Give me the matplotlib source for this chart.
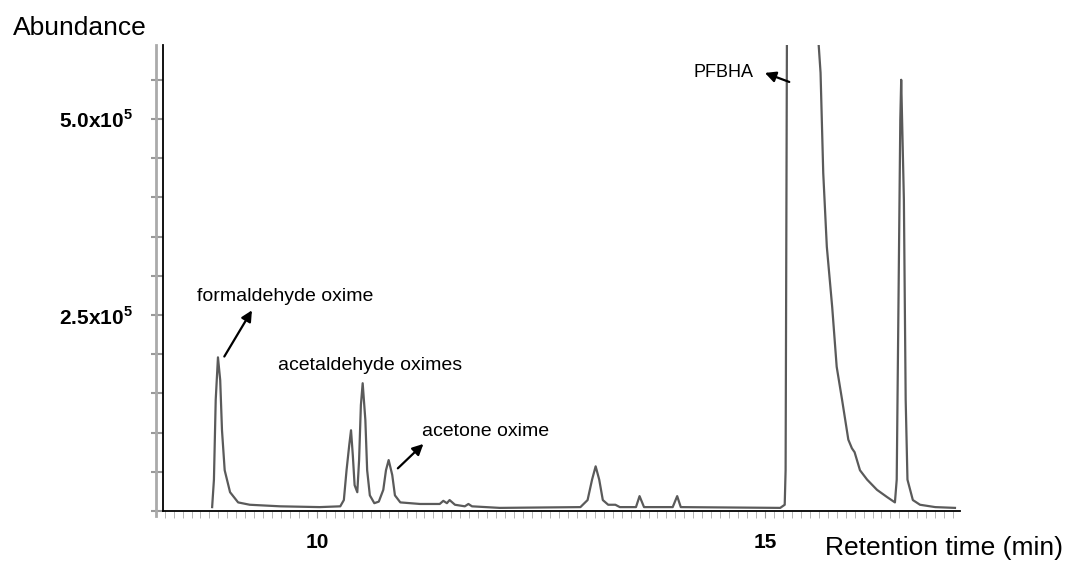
import matplotlib.pyplot as plt
from matplotlib.ticker import MultipleLocator

plt.rcParams['font.family'] = ['Liberation Sans', 'DejaVu Sans']
plt.rcParams['mathtext.fontset'] = 'custom'
plt.rcParams['mathtext.rm'] = 'Liberation Sans'
plt.rcParams['mathtext.bf'] = 'Liberation Sans:bold'

# retention time (min) and abundance (x1e5)
time = [8.83, 8.85, 8.87, 8.895, 8.92, 8.94, 8.97, 9.03, 9.12, 9.25, 9.59, 10.03, 10.26,
        10.30, 10.33, 10.36, 10.38, 10.40, 10.42, 10.45, 10.47, 10.49, 10.51, 10.54, 10.56,
        10.59, 10.64, 10.69, 10.74, 10.77, 10.80, 10.84, 10.87, 10.93, 11.15, 11.37, 11.41,
        11.45, 11.48, 11.54, 11.65, 11.69, 11.73, 12.04, 12.94, 13.02, 13.07, 13.11, 13.15,
        13.19, 13.25, 13.33, 13.38, 13.56, 13.60, 13.65, 13.97, 14.02, 14.06, 15.17, 15.22,
        15.23, 15.25, 15.57, 15.59, 15.62, 15.65, 15.69, 15.75, 15.80, 15.86, 15.93, 15.97,
        16.00, 16.06, 16.14, 16.25, 16.36, 16.45, 16.47, 16.49, 16.51, 16.52, 16.55, 16.57,
        16.59, 16.65, 16.73, 16.90, 17.12]
abundance = [0.05, 0.40, 1.42, 1.96, 1.67, 1.03, 0.52, 0.24, 0.11, 0.08, 0.06, 0.05, 0.06,
             0.14, 0.52, 0.84, 1.03, 0.71, 0.33, 0.24, 0.65, 1.35, 1.63, 1.16, 0.52,
             0.20, 0.10, 0.12, 0.27, 0.52, 0.65, 0.46, 0.20, 0.11, 0.09, 0.09, 0.13,
             0.10, 0.14, 0.08, 0.06, 0.09, 0.06, 0.04, 0.05, 0.14, 0.40, 0.57, 0.40,
             0.14, 0.08, 0.08, 0.05, 0.05, 0.19, 0.05, 0.05, 0.19, 0.05, 0.04, 0.08,
             0.52, 8.0, 8.0, 6.1, 5.59, 4.31, 3.37, 2.60, 1.84, 1.42, 0.91, 0.80,
             0.75, 0.52, 0.40, 0.27, 0.18, 0.11, 0.40, 2.69, 4.99, 5.50, 3.97, 1.42,
             0.40, 0.14, 0.08, 0.05, 0.04]

fig = plt.figure(figsize=(10.72, 5.62), dpi=100)
ax = fig.add_axes([0.152, 0.0907, 0.7435, 0.8293])
ax.plot(time, abundance, color='#5a5a5a', lw=1.6)
ax.set_xlim(8.281, 17.176)
ax.set_ylim(0, 5.944)

for s in ['top', 'right']:
    ax.spines[s].set_visible(False)
ax.spines['left'].set_linewidth(1.3)
ax.spines['bottom'].set_linewidth(1.3)
# second grey line of the scanned axis
ax.plot([-0.0085, -0.0085], [-0.01, 1.0], transform=ax.transAxes, clip_on=False,
        color='#aaaaaa', lw=2)

ax.set_xticks([10, 15], ['10', '15'], fontsize=15, fontweight='bold')
ax.xaxis.set_minor_locator(MultipleLocator(0.1))
ax.tick_params(axis='x', which='major', length=5, color='#999999', pad=11)
ax.tick_params(axis='x', which='minor', length=5, color='#aaaaaa')
ax.set_yticks([2.5, 5.0], [r'2.5x10$^{\mathbf{5}}$', r'5.0x10$^{\mathbf{5}}$'],
              fontsize=15, fontweight='bold')
ax.yaxis.set_minor_locator(MultipleLocator(0.5))
ax.tick_params(axis='y', which='both', length=9, color='#999999', width=1.5)
ax.tick_params(axis='y', which='major', pad=13)

arrow = dict(arrowstyle='-|>', color='black', lw=1.6, mutation_scale=16)
ax.annotate('', xy=(9.29, 2.59), xytext=(8.95, 1.94), arrowprops=arrow)
ax.text(8.66, 2.73, 'formaldehyde oxime', fontsize=14, va='center')
ax.text(10.59, 1.86, 'acetaldehyde oximes', fontsize=14, va='center', ha='center')
ax.annotate('', xy=(11.21, 0.88), xytext=(10.88, 0.52), arrowprops=arrow)
ax.text(11.17, 1.02, 'acetone oxime', fontsize=14, va='center')
ax.annotate('', xy=(14.97, 5.60), xytext=(15.30, 5.46), arrowprops=arrow)
ax.text(14.20, 5.59, 'PFBHA', fontsize=13, va='center')

fig.text(13 / 1072, 1 - 28 / 562, 'Abundance', fontsize=19, va='center')
fig.text(825 / 1072, 1 - 548 / 562, 'Retention time (min)', fontsize=19, va='center')

plt.savefig('out.png')
